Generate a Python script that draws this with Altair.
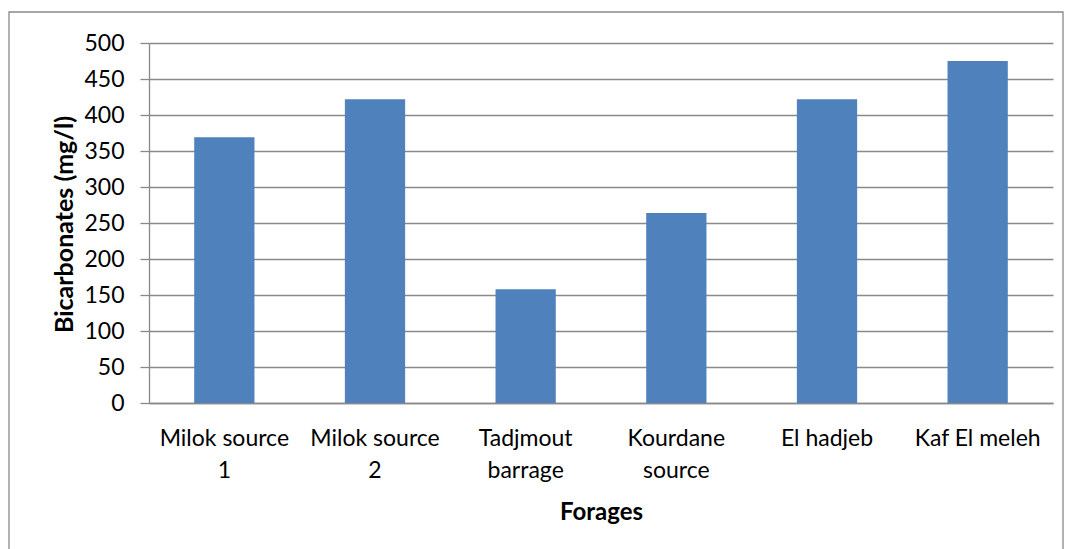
import altair as alt
import pandas as pd

# Bicarbonate content per borehole / source (mg/l)
forages = [
    "Milok source\n1",
    "Milok source\n2",
    "Tadjmout\nbarrage",
    "Kourdane\nsource",
    "El hadjeb",
    "Kaf El meleh",
]
bicarbonates = [369, 422, 158, 264, 422, 475]
y_ticks = [0, 50, 100, 150, 200, 250, 300, 350, 400, 450, 500]

df = pd.DataFrame({"Forages": forages, "Bicarbonates": bicarbonates})

W, H = 904, 360
FONT = "Lato"
GRAY = "#898989"

bars = alt.Chart(df).mark_bar(color="#4F81BD").encode(
    x=alt.X(
        "Forages:N",
        sort=forages,
        scale=alt.Scale(paddingInner=0.6, paddingOuter=0.3),
        axis=alt.Axis(
            title="Forages",
            labelAngle=0,
            labelExpr="split(datum.label, '\\n')",
            labelLineHeight=32,
            labelPadding=24,
            labelFontSize=23,
            labelFont=FONT,
            labelColor="#000000",
            ticks=False,
            domainColor=GRAY,
            domainWidth=1.3,
            titleFont=FONT,
            titleFontSize=24,
            titleFontWeight="bold",
            titleColor="#000000",
            titleBaseline="middle",
            titleY=109,
        ),
    ),
    y=alt.Y(
        "Bicarbonates:Q",
        scale=alt.Scale(domain=[0, 500], nice=False),
        axis=alt.Axis(
            title="Bicarbonates (mg/l)",
            values=y_ticks,
            grid=True,
            gridColor=GRAY,
            gridWidth=1.3,
            domainColor=GRAY,
            domainWidth=1.3,
            tickColor=GRAY,
            tickWidth=1.3,
            tickSize=9,
            labelPadding=16,
            labelFontSize=23,
            labelFont=FONT,
            labelColor="#000000",
            titleFont=FONT,
            titleFontSize=25,
            titleFontWeight="bold",
            titleColor="#000000",
            titleBaseline="middle",
            titleX=-85,
            titleY=H / 2 + 1,
        ),
    ),
)

# outer chart-area frame
frame = alt.Chart(pd.DataFrame({"f": [0]})).mark_rect(
    fill=None, stroke=GRAY, strokeWidth=1.3
).encode(
    x=alt.value(-140),
    x2=alt.value(914),
    y=alt.value(-31),
    y2=alt.value(520),
)

chart = alt.layer(frame, bars).properties(
    width=W,
    height=H,
    autosize=alt.AutoSizeParams(type="none"),
    padding={"left": 149, "top": 43, "right": 15, "bottom": 146},
    background="white",
).configure_view(stroke=None)

chart.save("out.html", embed_options={"renderer": "svg", "actions": False})
